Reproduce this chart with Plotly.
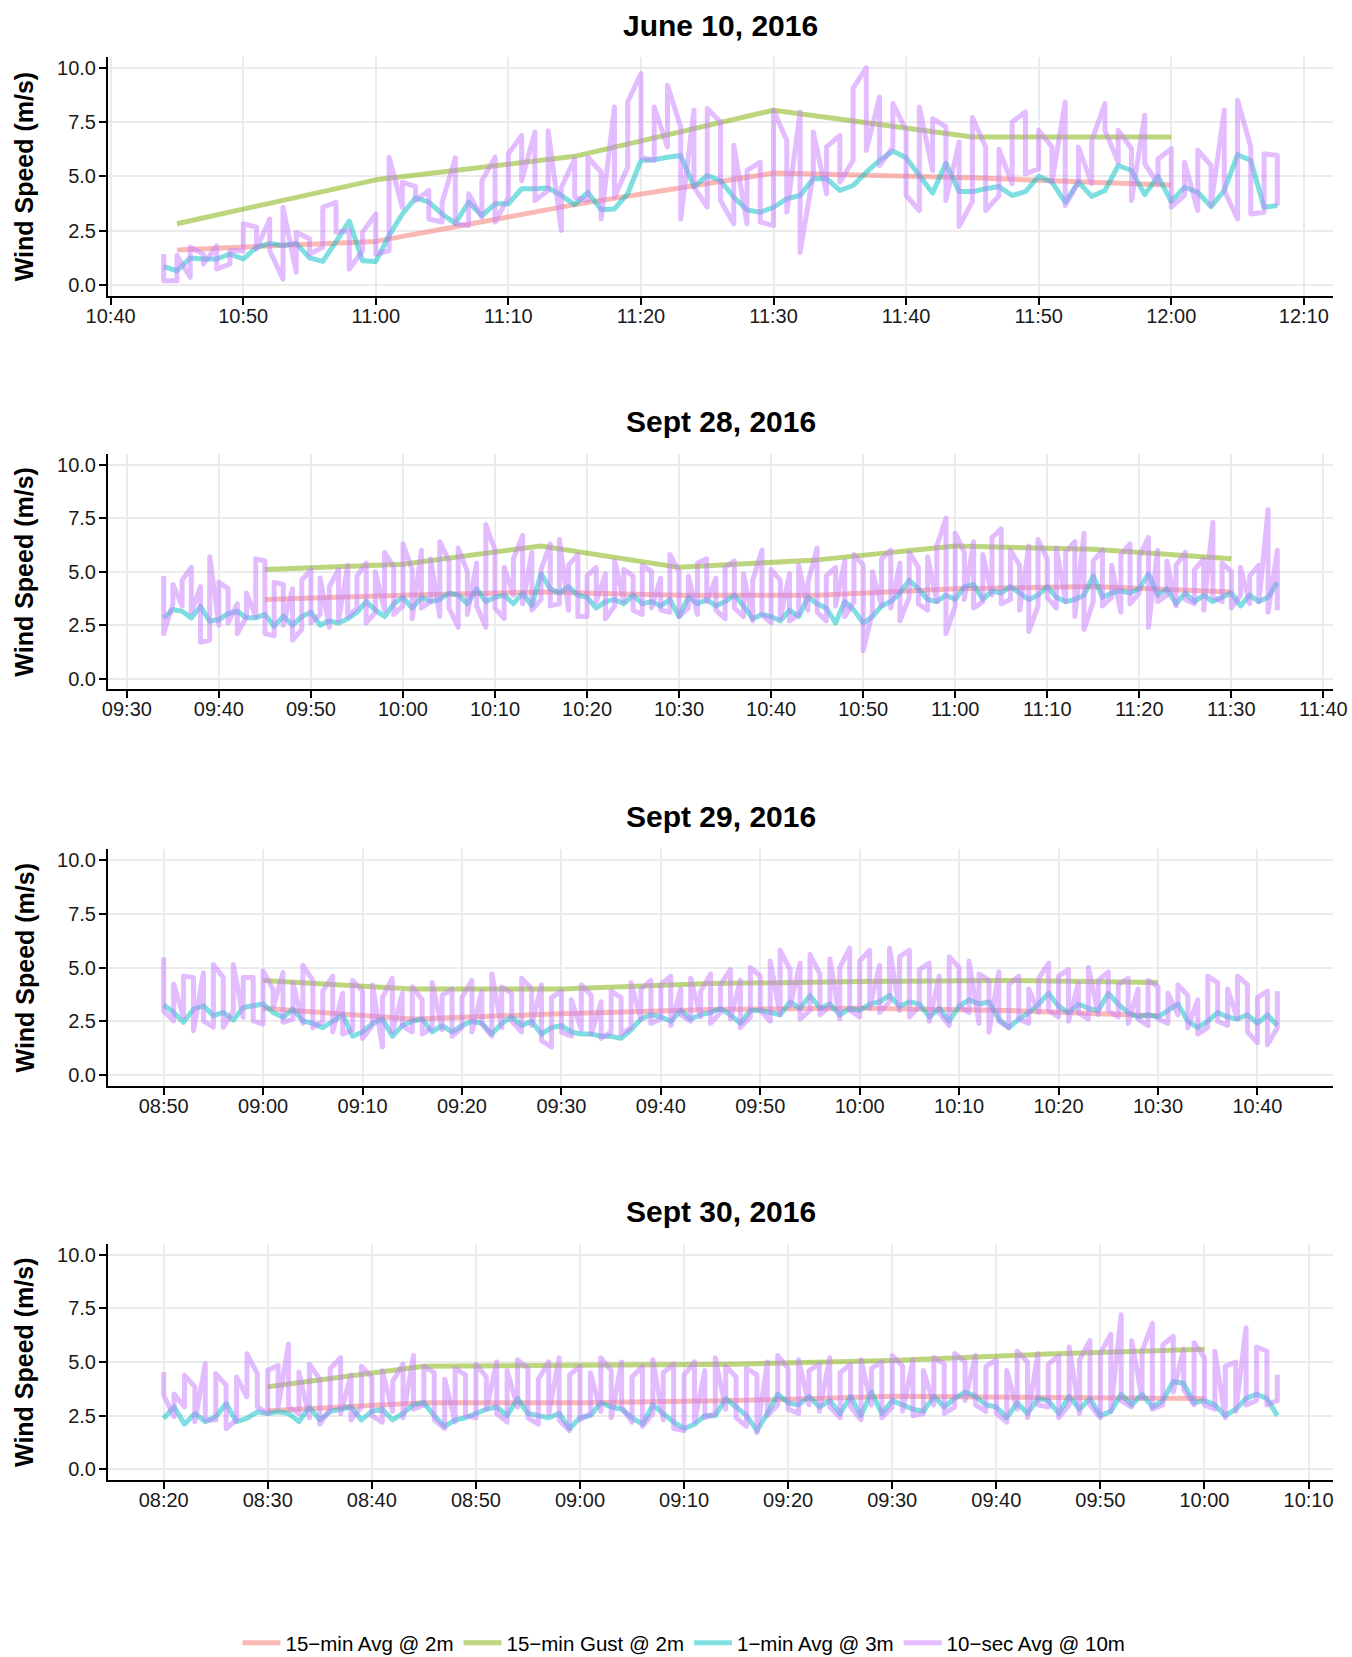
import plotly.graph_objects as go
import pandas as pd

# ---------------- data ----------------
dates = ["2016-06-10", "2016-09-28", "2016-09-29", "2016-09-30"]
titles = ["June 10, 2016", "Sept 28, 2016", "Sept 29, 2016", "Sept 30, 2016"]
series_names = ["15\u2212min Avg @ 2m", "15\u2212min Gust @ 2m", "1\u2212min Avg @ 3m", "10\u2212sec Avg @ 10m"]
colors = ["#F8766D", "#7CAE00", "#00BFC4", "#C77CFF"]

# 15-minute records (avg and gust at 2 m)
p1_15_times = ["10:45", "11:00", "11:15", "11:30", "11:45", "12:00"]
p1_avg15 = [1.62, 2.01, 3.7, 5.15, 4.93, 4.6]
p1_gust15 = [2.82, 4.84, 5.92, 8.04, 6.81, 6.81]

p2_15_times = ["09:45", "10:00", "10:15", "10:30", "10:45", "11:00", "11:15", "11:30"]
p2_avg15 = [3.7, 3.9, 4.05, 3.9, 3.9, 4.2, 4.3, 4.05]
p2_gust15 = [5.1, 5.35, 6.2, 5.2, 5.55, 6.2, 6.05, 5.6]

p3_15_times = ["09:00", "09:15", "09:30", "09:45", "10:00", "10:15", "10:30"]
p3_avg15 = [3.1, 2.6, 2.85, 3.05, 3.1, 3.0, 2.75]
p3_gust15 = [4.4, 4.0, 4.0, 4.25, 4.35, 4.4, 4.3]

p4_15_times = ["08:30", "08:45", "09:00", "09:15", "09:30", "09:45", "10:00"]
p4_avg15 = [2.73, 3.1, 3.1, 3.2, 3.4, 3.35, 3.3]
p4_gust15 = [3.85, 4.8, 4.85, 4.9, 5.07, 5.37, 5.6]

# 1-minute averages at 3 m (one value per minute from the start time)
p1_1min_start = "10:44"
p1_1min = [
    0.85, 0.66, 1.25, 1.2, 1.2, 1.43,                                   # 10:44-10:49
    1.2, 1.74, 1.92, 1.82, 1.92, 1.25, 1.09, 2.0, 2.94, 1.12,            # 10:50
    1.09, 2.28, 3.27, 4.01, 3.81, 3.27, 2.84, 3.81, 3.2, 3.74,           # 11:00
    3.74, 4.43, 4.43, 4.47, 4.12, 3.7, 4.26, 3.46, 3.5, 4.2,             # 11:10
    5.73, 5.76, 5.88, 5.96, 4.53, 5.04, 4.81, 4.04, 3.46, 3.35,          # 11:20
    3.58, 3.97, 4.12, 4.89, 4.89, 4.35, 4.58, 5.19, 5.73, 6.16,          # 11:30
    5.86, 5.04, 4.23, 5.6, 4.3, 4.3, 4.43, 4.53, 4.12, 4.3,              # 11:40
    5.0, 4.74, 3.81, 4.74, 4.08, 4.35, 5.5, 5.27, 4.16, 5.0,             # 11:50
    3.85, 4.5, 4.27, 3.61, 4.35, 6.0, 5.73, 3.58, 3.66,                  # 12:00-12:08
]

p2_1min_start = "09:34"
p2_1min = [
    2.84, 3.23, 3.15, 2.84, 3.38, 2.68,                                  # 09:34-09:39
    2.76, 3.04, 3.15, 2.84, 2.84, 3.0, 2.45, 2.92, 2.5, 2.9,             # 09:40
    3.1, 2.5, 2.7, 2.6, 2.8, 3.1, 3.6, 3.2, 2.9, 3.5,                    # 09:50
    3.8, 3.3, 3.8, 3.6, 3.7, 4.0, 3.9, 3.5, 4.2, 3.6,                    # 10:00
    3.8, 3.9, 3.5, 4.0, 3.4, 4.9, 4.2, 4.0, 4.3, 3.9,                    # 10:10
    3.8, 3.3, 3.6, 3.7, 3.5, 3.9, 3.5, 3.6, 3.4, 3.7,                    # 10:20
    2.9, 3.8, 3.5, 3.7, 3.4, 3.6, 3.9, 3.4, 2.8, 3.0,                    # 10:30
    2.9, 2.7, 3.2, 2.9, 3.8, 3.5, 3.3, 2.6, 3.6, 3.2,                    # 10:40
    2.6, 2.9, 3.4, 3.6, 4.0, 4.6, 4.2, 3.7, 3.6, 3.9,                    # 10:50
    3.7, 4.3, 4.4, 3.7, 4.1, 4.0, 4.3, 4.0, 3.7, 3.9,                    # 11:00
    4.3, 3.8, 3.6, 3.7, 3.9, 4.8, 3.8, 4.0, 4.1, 4.0,                    # 11:10
    4.2, 4.9, 3.9, 4.2, 3.5, 4.0, 3.6, 3.9, 3.6, 3.8,                    # 11:20
    4.0, 3.4, 3.9, 3.6, 3.8, 4.5,                                        # 11:30-11:35
]

p3_1min_start = "08:50"
p3_1min = [
    3.27, 2.91, 2.45, 3.06, 3.22, 2.76, 2.91, 2.55, 3.14, 3.22,          # 08:50
    3.3, 2.91, 2.68, 3.06, 2.52, 2.4, 2.2, 2.5, 2.8, 1.8,                # 09:00
    2.0, 2.4, 2.6, 1.8, 2.3, 2.5, 2.6, 2.0, 2.3, 2.0,                    # 09:10
    2.3, 2.5, 2.4, 1.9, 2.4, 2.7, 2.3, 2.5, 1.9, 2.2,                    # 09:20
    2.3, 2.0, 1.9, 1.9, 1.8, 1.8, 1.7, 2.1, 2.6, 2.8,                    # 09:30
    2.7, 2.5, 3.0, 2.6, 2.8, 2.9, 3.1, 2.8, 2.4, 3.0,                    # 09:40
    3.0, 2.9, 2.8, 3.4, 3.1, 3.7, 3.1, 3.3, 2.8, 3.1,                    # 09:50
    3.0, 3.3, 3.4, 3.7, 3.2, 3.4, 3.3, 2.7, 3.1, 2.5,                    # 10:00
    3.2, 3.5, 3.3, 3.4, 2.6, 2.2, 2.6, 2.9, 3.3, 3.8,                    # 10:10
    3.2, 2.9, 3.3, 3.1, 3.0, 3.8, 3.3, 2.9, 2.7, 2.8,                    # 10:20
    2.7, 3.0, 3.3, 2.5, 2.2, 2.5, 2.9, 2.7, 2.6, 2.8,                    # 10:30
    2.4, 2.8, 2.3,                                                       # 10:40-10:42
]

p4_1min_start = "08:20"
p4_1min = [
    2.37, 2.91, 2.1, 2.6, 2.22, 2.45, 3.06, 2.22, 2.37, 2.68,            # 08:20
    2.6, 2.68, 2.6, 2.22, 2.9, 2.3, 2.7, 2.8, 2.9, 2.3,                  # 08:30
    2.7, 2.8, 2.3, 2.6, 3.0, 3.1, 2.5, 2.0, 2.3, 2.4,                    # 08:40
    2.6, 2.8, 2.9, 2.5, 3.3, 2.6, 2.5, 2.4, 2.6, 1.9,                    # 08:50
    2.4, 2.5, 3.1, 2.9, 2.8, 2.4, 2.1, 3.0, 2.6, 2.2,                    # 09:00
    1.9, 2.1, 2.5, 2.5, 3.3, 2.9, 2.5, 1.8, 2.6, 3.5,                    # 09:10
    3.1, 3.0, 3.4, 2.9, 3.2, 2.6, 3.4, 2.5, 3.6, 2.6,                    # 09:20
    3.2, 3.0, 2.8, 2.7, 3.4, 2.9, 3.3, 3.6, 3.4, 3.0,                    # 09:30
    2.9, 2.4, 3.1, 2.6, 3.3, 3.2, 2.6, 3.4, 2.8, 3.3,                    # 09:40
    2.5, 2.7, 3.5, 3.0, 3.5, 2.9, 3.2, 4.1, 4.0, 3.1,                    # 09:50
    3.2, 3.0, 2.5, 2.8, 3.3, 3.5, 3.3, 2.5,                              # 10:00-10:07
]

# 10-second averages at 10 m, logged with minute timestamps:
# two readings per minute (first, last) from the start time
p1_10s_start = "10:44"
p1_10s = [
    1.43, 0.2, 0.2, 1.36, 0.36, 1.75, 1.43, 0.97, 1.8, 0.74, 0.97, 1.58,                          # 10:44-49
    1.58, 2.82, 2.66, 1.66, 3.04, 1.58, 0.27, 3.58, 0.59, 2.43, 2.13, 1.43, 1.74, 3.58, 3.81, 2.43, 2.51, 0.74, 1.58, 2.43,
    3.27, 1.43, 1.58, 5.88, 3.58, 4.73, 4.53, 3.89, 4.35, 3.04, 2.9, 3.81, 5.85, 2.82, 2.74, 4.2, 3.12, 4.8, 5.88, 2.9,
    4.04, 6.04, 6.88, 4.8, 7.04, 3.89, 4.35, 7.1, 2.51, 4.5, 5.8, 4.04, 3.89, 5.88, 5.19, 3.04, 8.19, 4.04, 5.42, 8.42,
    9.73, 5.88, 5.73, 8.19, 6.35, 9.19, 7.27, 3.04, 8.04, 4.5, 3.58, 8.12, 7.5, 3.89, 2.82, 6.43, 2.82, 5.27, 5.65, 2.9,
    2.74, 8.04, 6.65, 3.35, 7.96, 1.5, 5.12, 7.04, 4.2, 6.35, 6.88, 4.73, 5.73, 9.04, 10.0, 6.19, 8.65, 5.5, 6.35, 8.35,
    7.12, 4.12, 3.43, 8.19, 5.27, 7.65, 7.27, 3.89, 6.58, 2.7, 3.85, 7.7, 6.35, 3.43, 4.1, 6.25, 4.66, 7.5, 7.96, 5.12,
    5.35, 7.12, 6.35, 4.73, 8.42, 3.66, 4.73, 6.35, 4.66, 6.65, 8.35, 7.12, 5.65, 7.12, 6.27, 3.89, 7.81, 5.58, 4.66, 5.8,
    6.27, 3.58, 4.12, 5.65, 3.43, 6.2, 5.5, 3.66, 8.04, 4.35, 3.04, 8.5, 6.35, 3.27, 3.35, 6.04, 5.96, 3.66,  # 12:00-08
]

p2_10s_start = "09:34"
p2_10s = [
    4.8, 2.1, 3.5, 4.4, 3.4, 4.6, 5.2, 3.1, 4.3, 1.7, 1.8, 5.7,                                  # 09:34-39
    2.5, 4.5, 4.2, 2.6, 3.5, 2.1, 2.9, 4.0, 2.9, 5.6, 5.5, 2.1, 2.0, 4.5, 4.4, 2.5, 4.2, 1.8, 2.3, 4.6,
    5.1, 2.6, 3.0, 4.7, 2.4, 4.3, 5.1, 2.7, 5.3, 2.9, 3.3, 4.8, 5.4, 2.6, 3.1, 5.0, 3.2, 5.9, 5.2, 3.0,
    3.4, 6.3, 5.1, 2.8, 6.0, 3.3, 3.6, 5.6, 2.9, 6.4, 5.5, 3.3, 2.4, 6.1, 5.0, 3.0, 5.4, 3.4, 2.4, 7.2,
    6.0, 3.3, 2.8, 5.2, 3.9, 5.6, 6.7, 3.5, 5.9, 3.2, 3.7, 5.1, 6.3, 3.4, 3.5, 6.5, 3.2, 5.3, 5.8, 2.9,
    2.9, 4.8, 5.2, 3.6, 4.9, 2.8, 3.4, 5.5, 3.6, 5.1, 4.8, 3.2, 3.0, 5.3, 5.0, 3.3, 4.7, 3.2, 3.1, 5.8,
    5.0, 2.9, 3.3, 4.8, 3.0, 5.4, 5.6, 3.6, 4.7, 3.2, 2.8, 5.2, 5.5, 3.3, 2.9, 4.9, 2.7, 4.6, 6.0, 3.0,
    2.6, 5.1, 4.6, 2.8, 4.9, 2.7, 3.0, 5.3, 3.2, 4.5, 6.1, 3.1, 2.7, 4.8, 5.2, 3.4, 5.5, 2.9, 3.6, 5.8,
    5.3, 1.3, 3.1, 5.0, 3.4, 5.6, 6.0, 3.3, 5.4, 2.7, 3.8, 5.9, 5.2, 3.5, 3.2, 5.7, 3.6, 6.2, 7.5, 2.1,
    3.4, 6.8, 5.9, 3.7, 6.4, 3.3, 3.6, 5.8, 3.9, 6.6, 7.0, 3.5, 3.7, 6.0, 5.3, 3.2, 6.2, 2.2, 3.4, 6.5,
    5.6, 3.8, 3.3, 6.1, 3.6, 5.9, 6.4, 2.9, 6.8, 2.3, 3.6, 5.5, 6.0, 3.4, 3.8, 5.3, 3.1, 5.8, 6.3, 3.5,
    4.0, 5.7, 6.6, 2.4, 6.0, 3.6, 3.9, 5.5, 3.4, 5.3, 5.9, 3.7, 3.5, 5.1, 5.6, 3.2, 7.3, 3.8, 3.6, 5.4,
    5.0, 3.3, 3.9, 5.2, 3.5, 4.8, 5.3, 3.6, 7.9, 3.1, 6.0, 3.2,                                  # 11:30-35
]

p3_10s_start = "08:50"
p3_10s = [
    5.46, 2.98, 2.52, 4.23, 2.68, 4.6, 4.53, 2.06, 4.76, 2.52, 2.22, 5.14, 4.53, 2.22, 2.98, 5.14, 2.68, 4.53, 4.53, 2.52,
    2.37, 4.84, 3.99, 3.14, 4.76, 2.45, 2.6, 4.3, 2.4, 5.1, 4.4, 2.2, 2.5, 3.9, 4.6, 2.0, 3.8, 1.9, 2.1, 4.4,
    3.9, 1.7, 2.3, 4.2, 1.3, 3.6, 4.5, 2.0, 3.8, 2.3, 2.0, 4.1, 3.5, 1.9, 2.2, 4.3, 2.1, 3.7, 4.0, 1.8,
    2.2, 3.6, 4.4, 2.0, 3.9, 2.4, 1.8, 4.7, 2.2, 4.1, 3.8, 2.5, 2.0, 4.5, 4.0, 2.3, 4.2, 1.6, 1.3, 3.6,
    3.9, 2.0, 1.8, 3.5, 2.1, 4.2, 3.7, 1.9, 3.4, 1.7, 2.0, 3.9, 3.6, 1.9, 2.2, 4.3, 2.6, 4.0, 4.4, 2.4,
    2.6, 4.2, 4.6, 2.3, 4.0, 2.8, 2.5, 4.5, 2.7, 3.9, 4.7, 2.4, 2.9, 4.2, 4.9, 2.6, 4.4, 2.2, 2.7, 5.0,
    4.6, 3.0, 2.5, 5.3, 2.8, 5.8, 4.9, 3.2, 5.2, 2.6, 3.0, 5.6, 4.7, 2.8, 3.2, 5.4, 2.6, 5.0, 5.9, 3.0,
    2.7, 5.3, 5.8, 3.1, 5.1, 2.9, 3.4, 5.9, 3.0, 5.5, 5.8, 2.7, 3.2, 4.9, 5.2, 2.5, 4.6, 2.9, 2.3, 5.5,
    5.0, 3.2, 2.9, 5.3, 2.4, 4.7, 4.4, 2.0, 4.8, 2.5, 2.2, 4.2, 4.6, 2.6, 2.4, 4.0, 2.9, 4.5, 5.2, 3.0,
    2.7, 4.6, 4.9, 2.5, 4.3, 2.9, 2.6, 5.0, 2.8, 4.4, 4.8, 3.0, 2.7, 4.2, 4.5, 2.4, 4.0, 2.6, 2.3, 4.4,
    4.1, 2.6, 2.4, 3.8, 2.8, 4.2, 3.7, 2.2, 3.5, 1.9, 2.2, 4.6, 4.3, 2.5, 2.3, 4.0, 2.6, 4.6, 4.2, 2.0,
    1.5, 3.6, 3.9, 1.4, 2.2, 3.9,                                                                # 10:40-42
]

p4_10s_start = "08:20"
p4_10s = [
    4.53, 3.45, 2.45, 3.51, 2.91, 4.38, 3.84, 2.22, 4.92, 2.3, 2.3, 4.46, 3.92, 1.9, 2.3, 4.3, 3.38, 5.38, 4.46, 2.91,
    2.6, 4.61, 4.84, 2.91, 5.84, 2.91, 2.6, 4.53, 2.4, 4.9, 4.2, 2.1, 2.8, 4.7, 5.2, 2.6, 4.4, 2.3, 2.9, 4.8,
    4.3, 2.5, 2.2, 4.6, 2.7, 4.1, 4.9, 2.4, 5.3, 2.8, 3.0, 4.8, 4.5, 2.3, 1.9, 4.2, 2.2, 4.7, 4.4, 2.5,
    2.4, 4.9, 4.3, 2.8, 5.0, 2.6, 2.2, 4.6, 2.9, 5.1, 4.7, 2.4, 2.1, 4.2, 5.0, 2.6, 5.2, 2.3, 1.8, 4.4,
    4.8, 2.3, 2.6, 4.5, 2.7, 5.2, 4.6, 2.4, 5.0, 2.9, 2.2, 4.3, 4.8, 2.0, 2.6, 5.1, 2.3, 4.5, 4.9, 1.9,
    1.8, 4.4, 5.0, 2.2, 4.6, 2.4, 2.6, 5.2, 2.8, 4.8, 4.3, 2.4, 2.0, 4.7, 4.4, 1.7, 5.0, 2.5, 3.0, 5.3,
    4.7, 2.8, 2.6, 5.1, 3.0, 4.6, 4.9, 2.7, 5.2, 2.9, 2.4, 4.5, 4.9, 2.9, 2.3, 5.1, 3.0, 4.7, 5.0, 2.4,
    2.9, 5.3, 4.8, 2.7, 5.1, 2.5, 2.6, 4.6, 3.0, 5.2, 4.9, 2.6, 2.9, 5.4, 5.0, 3.2, 5.3, 3.0, 2.7, 4.8,
    5.1, 2.6, 2.2, 4.6, 2.8, 5.5, 5.0, 2.4, 5.4, 3.0, 2.9, 4.9, 5.3, 2.4, 3.0, 5.7, 2.6, 5.1, 6.0, 3.0,
    2.4, 5.4, 6.3, 2.7, 7.2, 3.2, 2.9, 6.0, 3.3, 5.5, 6.8, 2.8, 3.0, 5.8, 6.2, 3.6, 5.6, 3.7, 3.0, 5.9,
    5.2, 3.0, 2.8, 5.5, 2.4, 4.8, 5.0, 2.7, 6.6, 3.0, 3.2, 5.7, 5.5, 3.0, 3.2, 4.4,              # 10:00-07
]

# axis ranges shown (data span plus 5% each side)
x_ranges = [
    ["2016-06-10 10:39:48", "2016-06-10 12:12:12"],
    ["2016-09-28 09:27:57", "2016-09-28 11:41:03"],
    ["2016-09-29 08:44:24", "2016-09-29 10:47:36"],
    ["2016-09-30 08:14:39", "2016-09-30 10:12:21"],
]
y_ticks = [0, 2.5, 5, 7.5, 10]
y_ticklabels = ["0.0", "2.5", "5.0", "7.5", "10.0"]

# ---------------- figure ----------------
W, H = 1352, 1657
FONT = "Liberation Sans, Arial, Helvetica, sans-serif"
X0, X1 = 108, 1333
tops = [56.7, 454.0, 849.3, 1244.0]
bots = [296.0, 689.3, 1085.7, 1480.0]
title_y = [25.7, 421.0, 816.3, 1211.0]

panels = [
    (p1_15_times, p1_avg15, p1_gust15, p1_1min_start, p1_1min, p1_10s_start, p1_10s),
    (p2_15_times, p2_avg15, p2_gust15, p2_1min_start, p2_1min, p2_10s_start, p2_10s),
    (p3_15_times, p3_avg15, p3_gust15, p3_1min_start, p3_1min, p3_10s_start, p3_10s),
    (p4_15_times, p4_avg15, p4_gust15, p4_1min_start, p4_1min, p4_10s_start, p4_10s),
]

fig = go.Figure()
layout = dict(
    width=W, height=H, margin=dict(l=0, r=0, t=0, b=0, autoexpand=False),
    paper_bgcolor="white", plot_bgcolor="white",
    font=dict(family=FONT, color="black"),
    showlegend=True,
    legend=dict(orientation="h", x=684 / W, xanchor="center", y=1 - 1643 / H, yanchor="middle",
                font=dict(size=20.5, family=FONT, color="black"), itemwidth=38,
                bgcolor="rgba(0,0,0,0)"),
)
annotations = []

for i, (t15, avg15, gust15, s1, v1, s10, v10) in enumerate(panels):
    d = dates[i]
    xa = "x" if i == 0 else f"x{i+1}"
    ya = "y" if i == 0 else f"y{i+1}"
    x15 = pd.to_datetime([f"{d} {t}" for t in t15])
    t1 = pd.Timestamp(f"{d} {s1}") + pd.to_timedelta(range(len(v1)), unit="min")
    t10 = pd.Timestamp(f"{d} {s10}") + pd.to_timedelta([k // 2 for k in range(len(v10))], unit="min")
    data = [(x15, avg15), (x15, gust15), (t1, v1), (t10, v10)]
    for k, (xx, yy) in enumerate(data):
        fig.add_trace(go.Scatter(
            x=xx, y=yy, mode="lines", name=series_names[k], legendgroup=series_names[k],
            showlegend=(i == 0), opacity=0.5,
            line=dict(color=colors[k], width=5, simplify=False),
            xaxis=xa, yaxis=ya, hoverinfo="skip",
        ))
    axis_common = dict(
        showline=True, linecolor="black", linewidth=2, mirror=False, automargin=False,
        ticks="outside", ticklen=7, tickwidth=2, tickcolor="black",
        showgrid=True, gridcolor="#EBEBEB", gridwidth=1.6, zeroline=False,
        tickfont=dict(size=20, family=FONT, color="#1a1a1a"),
    )
    layout["xaxis" if i == 0 else f"xaxis{i+1}"] = dict(
        axis_common, domain=[X0 / W, X1 / W], anchor=ya, type="date",
        range=x_ranges[i], tickformat="%H:%M", dtick=600000, tick0=f"{d} 00:00",
        ticklabelstandoff=-6,
    )
    layout["yaxis" if i == 0 else f"yaxis{i+1}"] = dict(
        axis_common, domain=[1 - bots[i] / H, 1 - tops[i] / H], anchor=xa,
        range=[-0.5, 10.5], tickvals=y_ticks, ticktext=y_ticklabels,
        ticklabelstandoff=-1,
    )
    annotations.append(dict(
        text=f"<b>{titles[i]}</b>", x=(X0 + X1) / 2 / W, y=1 - title_y[i] / H,
        xref="paper", yref="paper", xanchor="center", yanchor="middle", showarrow=False,
        font=dict(size=30, family=FONT, color="black"),
    ))
    annotations.append(dict(
        text="<b>Wind Speed (m/s)</b>", x=24 / W, y=1 - (tops[i] + bots[i]) / 2 / H,
        xref="paper", yref="paper", xanchor="center", yanchor="middle", showarrow=False,
        textangle=-90, font=dict(size=25, family=FONT, color="black"),
    ))

layout["annotations"] = annotations
fig.update_layout(**layout)

post = ("document.body.style.margin='0';"
        "var s=document.createElement('style');"
        "s.innerHTML='.js-line{stroke-linejoin:round !important;}';"
        "document.head.appendChild(s);")
fig.write_html("out.html", config={"displayModeBar": False}, post_script=post)
